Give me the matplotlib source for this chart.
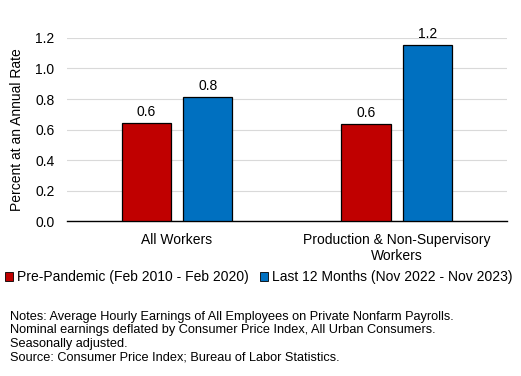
import numpy as np
import matplotlib.pyplot as plt
from matplotlib.patches import Patch

plt.rcParams['font.family'] = ['Liberation Sans', 'DejaVu Sans']

categories = ["All Workers", "Production & Non-Supervisory\nWorkers"]
pre_pandemic = [0.64, 0.634]
last_12m = [0.815, 1.152]
labels_pre = ["0.6", "0.6"]
labels_last = ["0.8", "1.2"]
series_names = ["Pre-Pandemic (Feb 2010 - Feb 2020)", "Last 12 Months (Nov 2022 - Nov 2023)"]
notes = ("Notes: Average Hourly Earnings of All Employees on Private Nonfarm Payrolls.\n"
         "Nominal earnings deflated by Consumer Price Index, All Urban Consumers.\n"
         "Seasonally adjusted.\n"
         "Source: Consumer Price Index; Bureau of Labor Statistics.")

red = "#C00000"
blue = "#0070C0"

fig = plt.figure(figsize=(5.21, 3.76), dpi=100)
ax = fig.add_axes([0.1286, 0.412, 0.844, 0.487])

x = np.arange(len(categories))
w = 0.223
off = 0.14
b1 = ax.bar(x - off, pre_pandemic, w, color=red, edgecolor="black", linewidth=0.9, zorder=3)
b2 = ax.bar(x + off, last_12m, w, color=blue, edgecolor="black", linewidth=0.9, zorder=3)

for bars, labs in ((b1, labels_pre), (b2, labels_last)):
    for rect, lab in zip(bars, labs):
        ax.annotate(lab, (rect.get_x() + rect.get_width() / 2, rect.get_height()),
                    xytext=(0, 3), textcoords="offset points", ha="center", va="bottom",
                    fontsize=10, annotation_clip=False)

ax.set_xlim(-0.5, 1.5)
ax.set_ylim(0, 1.2)
ax.set_yticks(np.arange(0, 1.21, 0.2))
ax.set_yticklabels([f"{v:.1f}" for v in np.arange(0, 1.21, 0.2)], fontsize=10)
ax.set_xticks(x)
ax.set_xticklabels(categories, fontsize=10, linespacing=1.15)
ax.tick_params(axis="both", length=0)
ax.tick_params(axis="y", pad=9)
ax.tick_params(axis="x", pad=8.5)
ax.grid(axis="y", color="#d9d9d9", linewidth=0.8, zorder=0)
for s in ("top", "right", "left"):
    ax.spines[s].set_visible(False)
ax.spines["bottom"].set_linewidth(1.0)
ax.set_ylabel("Percent at an Annual Rate", fontsize=10, labelpad=8)

handles = [Patch(facecolor=red, edgecolor="black", linewidth=0.6),
           Patch(facecolor=blue, edgecolor="black", linewidth=0.6)]
fig.legend(handles, series_names, loc="center left", bbox_to_anchor=(0.004, 0.263),
           ncol=2, frameon=False, fontsize=10, handlelength=0.6, handleheight=0.6,
           handletextpad=0.3, columnspacing=0.75, borderaxespad=0, borderpad=0.2)

fig.text(0.019, 0.103, notes, fontsize=9.2, va="center", ha="left", linespacing=1.2)

fig.savefig("out.png", dpi=100)
